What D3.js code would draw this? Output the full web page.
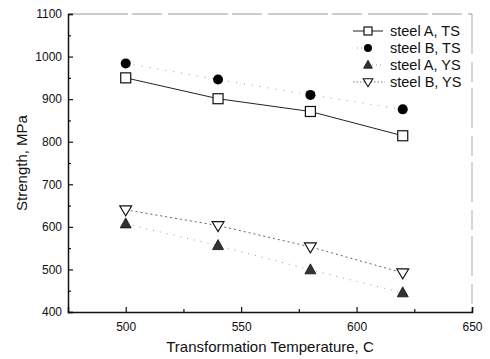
<!DOCTYPE html>
<html>
<head>
<meta charset="utf-8">
<script src="https://cdn.jsdelivr.net/npm/d3@7"></script>
<style>
body { margin: 0; background: #fff; }
svg { display: block; font-family: "Liberation Sans", Arial, sans-serif; }
</style>
</head>
<body>
<div id="chart"></div>
<script>
// data
const temps = [500, 540, 580, 620];
const steelA_TS = [950, 901, 871, 814];
const steelB_TS = [984, 946, 910, 876];
const steelA_YS = [607, 556, 499, 445];
const steelB_YS = [640, 603, 553, 492];
const xTicks = [500, 550, 600, 650];
const yTicks = [400, 500, 600, 700, 800, 900, 1000, 1100];
const names = ["steel A, TS", "steel B, TS", "steel A, YS", "steel B, YS"];

const W = 490, H = 359;
const svg = d3.select("#chart").append("svg").attr("width", W).attr("height", H);

const x = d3.scaleLinear().domain([475, 650]).range([68, 472]);
const y = d3.scaleLinear().domain([400, 1100]).range([312, 14]);

// frame (top/right faint like the scan)
svg.append("line").attr("x1", 68).attr("x2", 472).attr("y1", 14).attr("y2", 14)
  .attr("stroke", "#999").attr("stroke-width", 1.2).attr("stroke-dasharray", "60,4,30,6");
svg.append("line").attr("x1", 472).attr("x2", 472).attr("y1", 14).attr("y2", 312)
  .attr("stroke", "#888").attr("stroke-width", 0.7).attr("stroke-dasharray", "40,8,20,6");

// axes
const gx = svg.append("g").attr("transform", "translate(0,312)");
gx.call(d3.axisBottom(x).tickValues(xTicks).tickSize(-5).tickPadding(10).tickFormat(d3.format("d")));
gx.append("g").call(d3.axisBottom(x).tickValues([525, 575, 625]).tickSize(-3).tickFormat(""))
  .select(".domain").remove();

const gy = svg.append("g").attr("transform", "translate(68,0)");
gy.call(d3.axisLeft(y).tickValues(yTicks).tickSize(-5).tickPadding(6).tickFormat(d3.format("d")));
gy.append("g").call(d3.axisLeft(y).tickValues([450, 550, 650, 750, 850, 950, 1050]).tickSize(-3).tickFormat(""))
  .select(".domain").remove();

svg.selectAll(".domain").attr("stroke", "#111").attr("stroke-width", 1.5);
svg.selectAll(".tick line").attr("stroke", "#111").attr("stroke-width", 1.2);
svg.selectAll(".tick text").attr("font-size", 12).attr("fill", "#111")
  .attr("font-family", "Liberation Sans, Arial, sans-serif");

// titles
svg.append("text").attr("x", 270).attr("y", 352).attr("text-anchor", "middle")
  .attr("font-size", 15).attr("fill", "#111").text("Transformation Temperature, C");
svg.append("text").attr("transform", "translate(27,163) rotate(-90)").attr("text-anchor", "middle")
  .attr("font-size", 15).attr("fill", "#111").text("Strength, MPa");

// series
const series = [
  { vals: steelA_TS, dash: null, stroke: "#222", sym: "square" },
  { vals: steelB_TS, dash: "1,7", stroke: "#999", sym: "circle" },
  { vals: steelA_YS, dash: "1,6", stroke: "#999", sym: "triUp" },
  { vals: steelB_YS, dash: "2,3", stroke: "#666", sym: "triDown" }
];

const line = d3.line().x(d => x(d[0])).y(d => y(d[1]));

function marker(g, sym, cx, cy, k) {
  k = k || 1;
  if (sym === "square") {
    g.append("rect").attr("x", cx - 5 * k).attr("y", cy - 5 * k).attr("width", 10 * k).attr("height", 10 * k)
      .attr("fill", "#fff").attr("stroke", "#111").attr("stroke-width", 1.2);
  } else if (sym === "circle") {
    g.append("circle").attr("cx", cx).attr("cy", cy).attr("r", 5 * k).attr("fill", "#000");
  } else if (sym === "triUp") {
    g.append("path").attr("d", `M${cx},${cy - 6 * k}L${cx + 5.5 * k},${cy + 4 * k}L${cx - 5.5 * k},${cy + 4 * k}Z`)
      .attr("fill", "#333").attr("stroke", "#111").attr("stroke-width", 0.8);
  } else {
    g.append("path").attr("d", `M${cx - 6 * k},${cy - 4 * k}L${cx + 6 * k},${cy - 4 * k}L${cx},${cy + 6 * k}Z`)
      .attr("fill", "#fff").attr("stroke", "#111").attr("stroke-width", 1.1);
  }
}

series.forEach(s => {
  const pts = temps.map((t, i) => [t, s.vals[i]]);
  svg.append("path").datum(pts).attr("d", line).attr("fill", "none")
    .attr("stroke", s.stroke).attr("stroke-width", 1)
    .attr("stroke-dasharray", s.dash);
  const g = svg.append("g");
  pts.forEach(p => marker(g, s.sym, x(p[0]), y(p[1])));
});

// legend
const legY = [31, 48, 65, 82];
const lg = svg.append("g");
series.forEach((s, i) => {
  const yy = legY[i];
  if (i === 0) {
    lg.append("line").attr("x1", 353).attr("x2", 383).attr("y1", yy).attr("y2", yy).attr("stroke", "#222");
  } else if (i === 1) {
    lg.append("line").attr("x1", 357).attr("x2", 362).attr("y1", yy).attr("y2", yy)
      .attr("stroke", "#999").attr("stroke-dasharray", "1,3");
  } else if (i === 2) {
    lg.append("line").attr("x1", 372).attr("x2", 383).attr("y1", yy).attr("y2", yy)
      .attr("stroke", "#999").attr("stroke-dasharray", "1,3");
  } else {
    lg.append("line").attr("x1", 353).attr("x2", 385).attr("y1", yy).attr("y2", yy)
      .attr("stroke", "#777").attr("stroke-dasharray", "1.5,2");
  }
  marker(lg, s.sym, 368, yy, 0.8);
  lg.append("text").attr("x", 390).attr("y", yy + 5).attr("font-size", 14.5).attr("fill", "#111").text(names[i]);
});
</script>
</body>
</html>
